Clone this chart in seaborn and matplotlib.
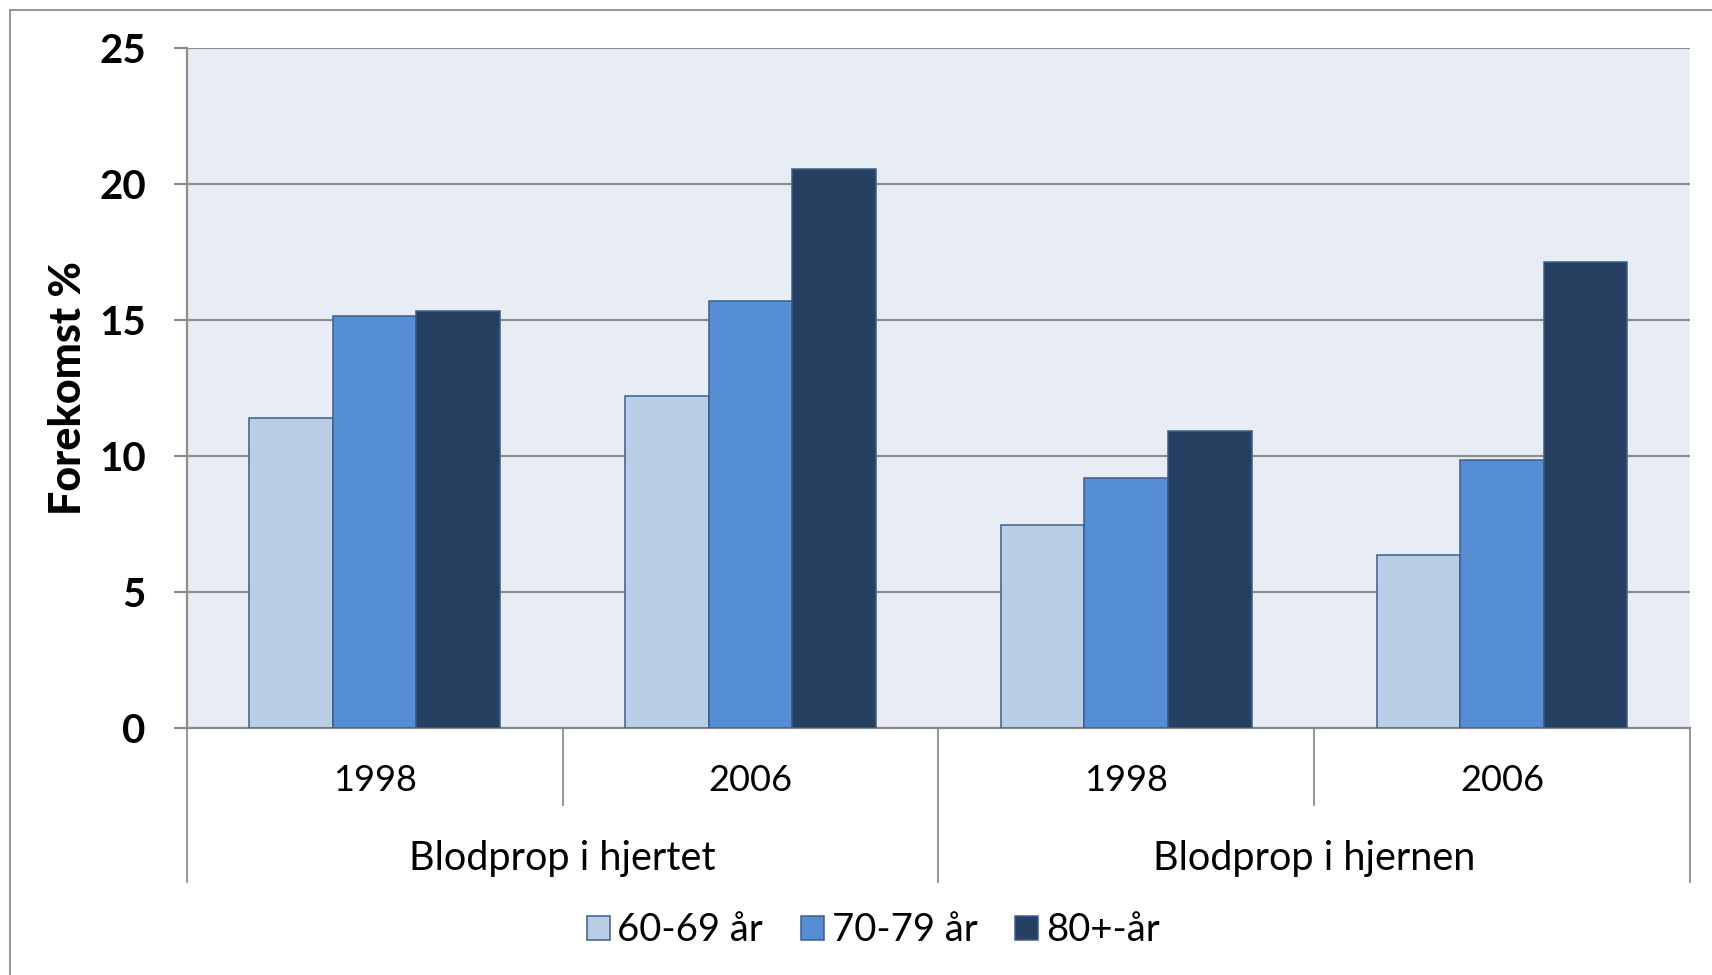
import numpy as np
import pandas as pd
import seaborn as sns
import matplotlib.pyplot as plt
from matplotlib.lines import Line2D
import matplotlib.transforms as mtransforms

# data
conditions = ["Blodprop i hjertet", "Blodprop i hjertet", "Blodprop i hjernen", "Blodprop i hjernen"]
years = ["1998", "2006", "1998", "2006"]
ages = ["60-69 år", "70-79 år", "80+-år"]
v60 = [11.4, 12.2, 7.45, 6.35]
v70 = [15.15, 15.7, 9.2, 9.85]
v80 = [15.35, 20.55, 10.9, 17.15]
groups = ["Blodprop i hjertet", "Blodprop i hjernen"]

colors = ["#B9CDE5", "#558ED5", "#254061"]
edge = "#3B5F8E"
grid_c = "#8C8C8C"

rows = []
for vals, age in zip([v60, v70, v80], ages):
    for cond, yr, v in zip(conditions, years, vals):
        rows.append({"slot": cond + "|" + yr, "age": age, "value": v})
df = pd.DataFrame(rows)
slots = [c + "|" + y for c, y in zip(conditions, years)]

plt.rcParams['font.family'] = ['Lato', 'DejaVu Sans']

fig = plt.figure(figsize=(17.12, 9.75), dpi=100)
ax = fig.add_axes([0.1091, 0.2536, 0.8780, 0.6969])
ax.set_facecolor("#E8ECF4")

sns.barplot(data=df, x="slot", y="value", hue="age", order=slots, hue_order=ages,
            palette=colors, saturation=1, width=0.667, errorbar=None,
            edgecolor=edge, linewidth=1.1, ax=ax, zorder=3)

ax.set_ylim(0, 25)
ax.set_xlim(-0.5, 3.5)
ax.set_yticks(np.arange(0, 26, 5))
ax.yaxis.grid(True, color=grid_c, linewidth=1.6, zorder=1)
ax.set_axisbelow(True)
for s in ["top", "right"]:
    ax.spines[s].set_visible(False)
for s in ["left", "bottom"]:
    ax.spines[s].set_color(grid_c)
    ax.spines[s].set_linewidth(1.6)

ax.tick_params(axis="y", length=9.5, width=1.6, color=grid_c, pad=20, labelsize=29)
for lab in ax.get_yticklabels():
    lab.set_fontweight("bold")
ax.set_ylabel("Forekomst %", fontsize=31, fontweight="black")
ax.yaxis.set_label_coords(-0.066, 0.5)

# two-level category axis
ax.set_xticks(range(len(years)))
ax.set_xticklabels([])
ax.tick_params(axis="x", length=0)
ax.set_xlabel("")
trans = mtransforms.blended_transform_factory(ax.transData, ax.transAxes)
for i, yr in enumerate(years):
    ax.text(i, -0.077, yr, transform=trans, ha="center", va="center", fontsize=26)
for j, g in enumerate(groups):
    ax.text(2 * j + 0.5, -0.193, g, transform=trans, ha="center", va="center", fontsize=28.5)
for xpos, low in [(-0.5, -0.227), (0.5, -0.114), (1.5, -0.227), (2.5, -0.114), (3.5, -0.227)]:
    ax.add_line(Line2D([xpos, xpos], [0, low], transform=trans, color=grid_c,
                       linewidth=1.3, clip_on=False))

handles, labels = ax.get_legend_handles_labels()
ax.legend_.remove()
fig.legend(handles, labels, loc="center", bbox_to_anchor=(0.51, 0.046), ncol=3,
           frameon=False, fontsize=27.5, handlelength=0.6, handleheight=0.6,
           handletextpad=0.2, columnspacing=1.0)

# outer chart frame
fig.add_artist(Line2D([10 / 1712, 1], [1 - 10 / 975, 1 - 10 / 975], transform=fig.transFigure,
                      color=grid_c, linewidth=1.3))
fig.add_artist(Line2D([10 / 1712, 10 / 1712], [0, 1 - 10 / 975], transform=fig.transFigure,
                      color=grid_c, linewidth=1.3))

fig.savefig("out.png", dpi=100)
